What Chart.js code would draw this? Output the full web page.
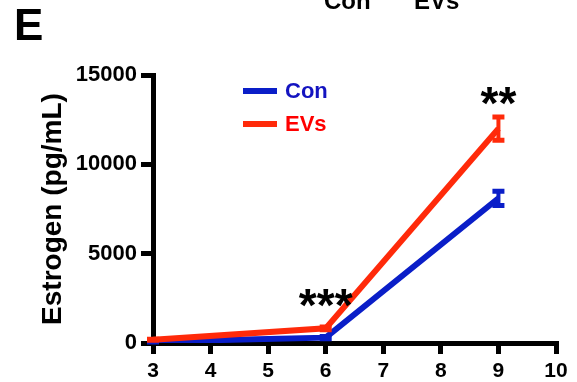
<!DOCTYPE html>
<html>
<head>
<meta charset="utf-8">
<script src="https://cdn.jsdelivr.net/npm/chart.js@4"></script>
<style>
  body { margin: 0; background: #fff; }
  #wrap { position: relative; width: 577px; height: 382px; overflow: hidden; font-family: "Liberation Sans", Arial, sans-serif; font-weight: bold; }
  canvas { position: absolute; left: 0; top: 0; }
  .lbl { position: absolute; white-space: nowrap; }
</style>
</head>
<body>
<div id="wrap">
  <canvas id="estrogen" width="577" height="382"></canvas>
  <div class="lbl" style="left:14px; top:0px; font-size:44px;">E</div>
  <div class="lbl" style="left:324px; top:-13px; font-size:24px;">Con</div>
  <div class="lbl" style="left:414px; top:-13px; font-size:24px;">EVs</div>
</div>
<script>
// weeks on the x axis
const weeks = [3, 6, 9];
const conMean = [80, 300, 8100];
const conErr = [20, 60, 400];
const evsMean = [180, 820, 12000];
const evsErr = [30, 80, 650];
const yTicks = [0, 5000, 10000, 15000];
const xTicks = [3, 4, 5, 6, 7, 8, 9, 10];
const stars = [{ x: 6, text: "***" }, { x: 9, text: "**" }];
const legendItems = ["Con", "EVs"];

const blue = "#0a1ec8";
const red = "#ff2a0a";

const toPoints = (means) => weeks.map((w, i) => ({ x: w, y: means[i] }));

//error bars + stars drawn with the chart's own scales
const extras = {
  id: "extras",
  afterDatasetsDraw(chart) {
    const ctx = chart.ctx;
    const xs = chart.scales.x;
    const ys = chart.scales.y;
    const sets = [[conMean, conErr, blue], [evsMean, evsErr, red]];
    ctx.save();
    sets.forEach(([m, e, c]) => {
      weeks.forEach((w, i) => {
        const px = xs.getPixelForValue(w);
        const top = ys.getPixelForValue(m[i] + e[i]);
        const bot = ys.getPixelForValue(m[i] - e[i]);
        ctx.strokeStyle = c;
        ctx.lineWidth = 4;
        ctx.beginPath();
        ctx.moveTo(px, top);
        ctx.lineTo(px, bot);
        ctx.stroke();
        ctx.lineWidth = 5;
        ctx.beginPath();
        ctx.moveTo(px - 6, top);
        ctx.lineTo(px + 6, top);
        ctx.moveTo(px - 6, bot);
        ctx.lineTo(px + 6, bot);
        ctx.stroke();
      });
    });
    ctx.fillStyle = "#000";
    ctx.font = "bold 46px 'Liberation Sans', Arial";
    ctx.textAlign = "center";
    ctx.textBaseline = "alphabetic";
    stars.forEach((s) => {
      const i = weeks.indexOf(s.x);
      const px = xs.getPixelForValue(s.x);
      const py = ys.getPixelForValue(evsMean[i] + evsErr[i]);
      ctx.fillText(s.text, px, py + 2 - (s.x === 6 ? 8 : 0));
    });
    // legend
    const colors = [blue, red];
    ctx.font = "bold 22px 'Liberation Sans', Arial";
    ctx.textAlign = "left";
    ctx.textBaseline = "middle";
    legendItems.forEach((name, i) => {
      const y = 91 + i * 33;
      ctx.strokeStyle = colors[i];
      ctx.lineWidth = 6;
      ctx.beginPath();
      ctx.moveTo(243, y);
      ctx.lineTo(277, y);
      ctx.stroke();
      ctx.fillStyle = i === 0 ? "#1414c0" : "#ff0000";
      ctx.fillText(name, 285, y + 1);
    });
    ctx.restore();
  },
};

const ctx = document.querySelector("#estrogen");
const estrogenChart = new Chart(ctx, {
  type: "line",
  data: {
    datasets: [
      {
        label: "EVs",
        data: toPoints(evsMean),
        borderColor: red,
        backgroundColor: red,
        borderWidth: 6,
        pointRadius: 0,
        tension: 0,
      },
      {
        label: "Con",
        data: toPoints(conMean),
        borderColor: blue,
        backgroundColor: blue,
        borderWidth: 6,
        pointRadius: 0,
        tension: 0,
      },
    ],
  },
  options: {
    responsive: false,
    animation: false,
    layout: { padding: { top: 75, right: 21, left: 0, bottom: 0 } },
    plugins: { legend: { display: false }, tooltip: { enabled: false } },
    scales: {
      x: {
        type: "linear",
        min: 3,
        max: 10,
        afterBuildTicks: (s) => { s.ticks = xTicks.map((v) => ({ value: v })); },
        afterFit: (s) => { s.height = 39; },
        border: { color: "#000", width: 5 },
        grid: { drawOnChartArea: false, color: "#000", lineWidth: 5, tickLength: 11 },
        ticks: { color: "#000", padding: 5, font: { family: "Liberation Sans", size: 21, weight: "bold" } },
      },
      y: {
        min: 0,
        max: 15000,
        afterBuildTicks: (s) => { s.ticks = yTicks.map((v) => ({ value: v })); },
        afterFit: (s) => { s.width = 153; },
        border: { color: "#000", width: 5 },
        grid: { drawOnChartArea: false, color: "#000", lineWidth: 5, tickLength: 12 },
        ticks: {
          color: "#000",
          padding: 4,
          callback: (v) => String(v),
          font: { family: "Liberation Sans", size: 22, weight: "bold" },
        },
        title: {
          display: true,
          text: "Estrogen (pg/mL)",
          color: "#000",
          padding: { top: 36, bottom: 0 },
          font: { family: "Liberation Sans", size: 28, weight: "bold" },
        },
      },
    },
  },
  plugins: [extras],
});
</script>
</body>
</html>
